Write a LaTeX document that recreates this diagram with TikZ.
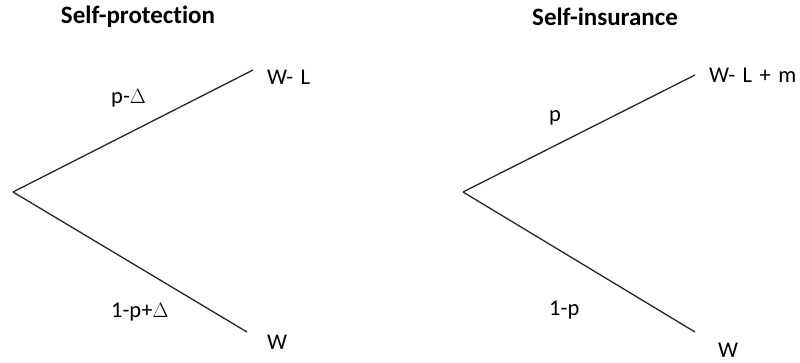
\documentclass[tikz,border=0pt]{standalone}
\usepackage{fontspec}
\setmainfont{Carlito}[Ligatures={NoCommon,NoRare}]
\newcommand{\wsp}{\hspace{7.5pt}}
\begin{document}
\begin{tikzpicture}[x=1pt,y=-1pt,
  branch/.style={line width=1.3pt, black!85},
  lbl/.style={inner sep=0pt, font=\fontsize{22.5}{26}\selectfont},
  ttl/.style={inner sep=0pt, font=\fontsize{25}{29}\selectfont\bfseries}]
\useasboundingbox (0,0) rectangle (800,362);
% left tree
\node[ttl] (t1) at (138,17) {Self-protection};
\coordinate (r1) at (13,192);
\coordinate (u1) at (253,70);
\coordinate (d1) at (247,332);
\draw[branch] (r1) -- (u1);
\draw[branch] (r1) -- (d1);
\node[lbl, anchor=west] (wl1) at (267,77) {W-\wsp L};
\node[lbl, anchor=west] (w1) at (267,342) {W};
\node[lbl, anchor=west] (p1) at (111,98) {p-$\Delta$};
\node[lbl, anchor=west] (q1) at (111,312) {1-p+$\Delta$};
% right tree
\node[ttl] (t2) at (605,17) {Self-insurance};
\coordinate (r2) at (463,192);
\coordinate (u2) at (695,75);
\coordinate (d2) at (695,332);
\draw[branch] (r2) -- (u2);
\draw[branch] (r2) -- (d2);
\node[lbl, anchor=west] (wl2) at (709,75) {W-\wsp L\wsp +\wsp m};
\node[lbl, anchor=west] (w2) at (718,350) {W};
\node[lbl, anchor=west] (p2) at (549,118) {p};
\node[lbl, anchor=west] (q2) at (549,310) {1-p};
\end{tikzpicture}
\end{document}
